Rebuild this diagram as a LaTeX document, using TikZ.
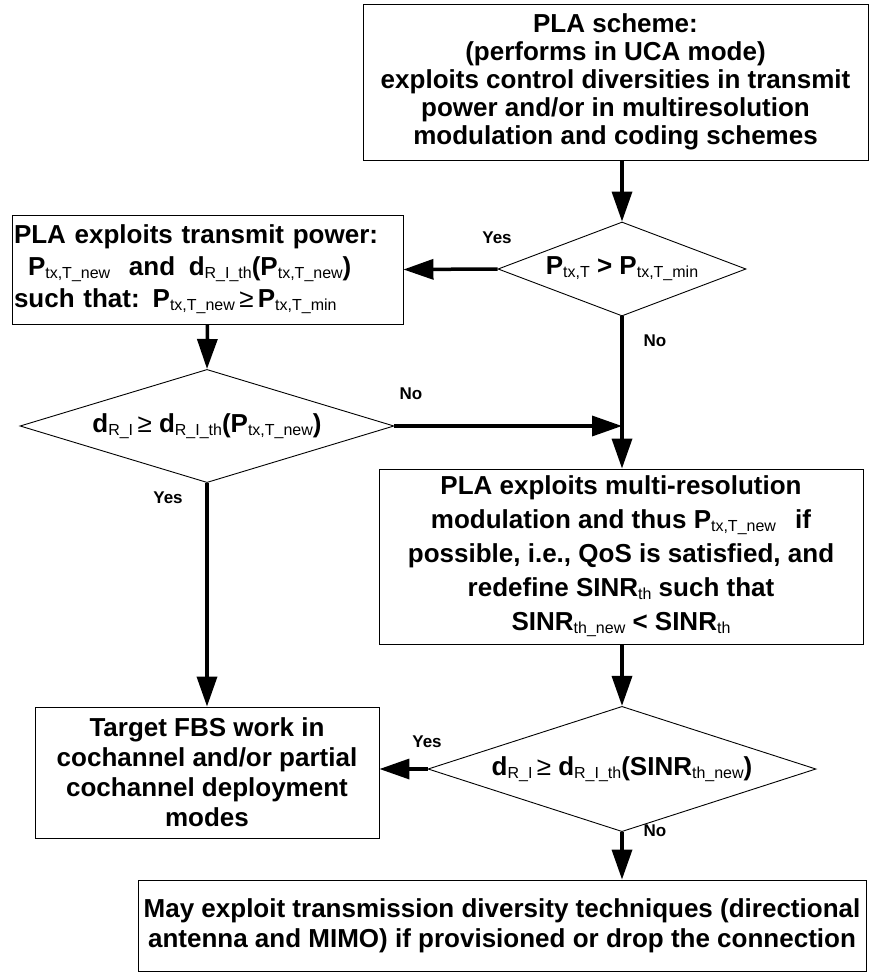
\documentclass[tikz,border=0pt]{standalone}
\usepackage{fontspec}
\setmainfont{Liberation Sans}
\usetikzlibrary{arrows.meta,shapes.geometric}

\newcommand{\sbs}[1]{\raisebox{-3pt}{\fontsize{16}{16}\selectfont\mdseries #1}}
\newcommand{\boxfont}[1]{\fontsize{26}{#1}\selectfont\bfseries}

\begin{document}
\begin{tikzpicture}[
    x							= 1pt,
	y							= -1pt,
    font=\boxfont{28},
    box/.style={rectangle, draw, line width=0.9pt, inner sep=0pt, align=center},
    test/.style={diamond, draw, line width=0.9pt, inner sep=0pt, shape aspect=2.6},
    flow/.style={line width=3.5pt, -{Triangle[length=30pt,width=20pt]}},
    %flow/.style={very thick, ->},
    lbl/.style={font=\fontsize{17}{17}\selectfont\bfseries}
    ]
\useasboundingbox (0,0) rectangle (870,974);

\node[box, minimum width=505pt, minimum height=156pt] (pla-scheme) at (615.5,82) {
    PLA scheme:\\
    (performs in UCA mode)\\
    exploits control diversities in transmit\\
    power and/or in multiresolution\\
    modulation and coding schemes
};
\node[test, minimum width=248pt, minimum height=94pt] (power-check) at (622,269)
    {P\sbs{tx,T} > P\sbs{tx,T\_min}};
\node[box, minimum width=391pt, minimum height=109pt, text width=387pt, inner xsep=2pt, align=left, font=\boxfont{32}] (pla-power) at (207.5,269.5) {
    PLA exploits transmit power:\\
    \hspace*{14pt}P\sbs{tx,T\_new}\hspace{10pt} and \hspace{5pt}d\sbs{R\_I\_th}(P\sbs{tx,T\_new})\\
    such that: P\sbs{tx,T\_new}\,{\mdseries ≥}\,P\sbs{tx,T\_min}
};
\node[test, minimum width=374pt, minimum height=108pt] (dist-check) at (207,426)
    {d\sbs{R\_I}\,{\mdseries ≥} d\sbs{R\_I\_th}(P\sbs{tx,T\_new})};
\node[box, minimum width=484pt, minimum height=175pt, font=\boxfont{34}] (pla-mod) at (621,556.5) {
    PLA exploits multi-resolution\\
    modulation and thus P\sbs{tx,T\_new}\hspace{12pt} if\\
    possible, i.e., QoS is satisfied, and\\
    redefine SINR\sbs{th} such that\\
    SINR\sbs{th\_new} < SINR\sbs{th}
};
\node[test, minimum width=388pt, minimum height=92pt] (sinr-check) at (622,769)
    {d\sbs{R\_I}\,{\mdseries ≥} d\sbs{R\_I\_th}(SINR\sbs{th\_new})};
\node[box, minimum width=344pt, minimum height=131pt, font=\boxfont{30}] (fbs-work) at (207,772.5) {
    Target FBS work in\\
    cochannel and/or partial\\
    cochannel deployment\\
    modes
};
\node[box, minimum width=728pt, minimum height=91pt, font=\boxfont{30}] (diversity) at (502,925.5) {
    May exploit transmission diversity techniques (directional\\
    antenna and MIMO) if provisioned or drop the connection
};

% decisions
\coordinate (merge) at (dist-check.east -| power-check.south);
\draw[flow] (pla-scheme.south -| power-check) -- (power-check.north);
\draw[flow] (power-check.west) -- (pla-power.east);
\draw[flow] (power-check.south) -- (pla-mod.north -| power-check);
\draw[flow] (pla-power.south) -- (dist-check.north);
\draw[flow] (dist-check.east) -- (merge);
\draw[flow] (dist-check.south) -- (fbs-work.north);
\draw[flow] (pla-mod.south -| sinr-check) -- (sinr-check.north);
\draw[flow] (sinr-check.west) -- (sinr-check.west -| fbs-work.east);
\draw[flow] (sinr-check.south) -- (diversity.north -| sinr-check);

\node[lbl] (yes-power) at (497,238) {Yes};
\node[lbl] (no-power) at (655,341) {No};
\node[lbl] (no-dist) at (411,394) {No};
\node[lbl] (yes-dist) at (168,498) {Yes};
\node[lbl] (yes-sinr) at (427,742) {Yes};
\node[lbl] (no-sinr) at (655,831) {No};

\end{tikzpicture}
\end{document}
